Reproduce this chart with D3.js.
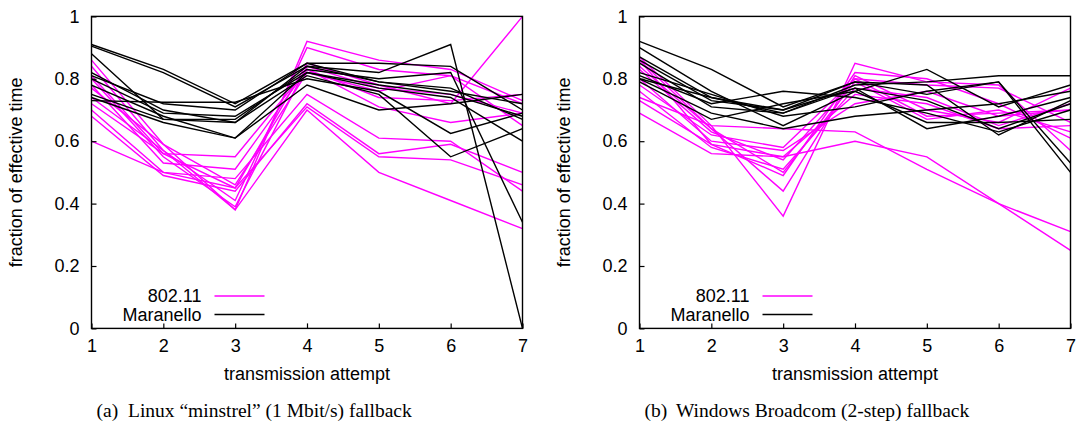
<!DOCTYPE html>
<html>
<head>
<meta charset="utf-8">
<script src="https://cdn.jsdelivr.net/npm/d3@7"></script>
<style>
	body { margin: 0; background: #fff; }
	svg { display: block; }
</style>
</head>
<body>
<svg id="chart" width="1078" height="424"></svg>
<script>
// transmission attempts on the x axis
var attempts = [1, 2, 3, 4, 5, 6, 7];
var yTickValues = [0, 0.2, 0.4, 0.6, 0.8, 1];
var yTickLabels = ['0', '0.2', '0.4', '0.6', '0.8', '1'];
var seriesNames = ['802.11', 'Maranello'];
var xTitle = 'transmission attempt';
var yTitle = 'fraction of effective time';

// (a) Linux minstrel, 802.11 runs
var minstrelStd = [
	[0.86, 0.59, 0.38, 0.92, 0.86, 0.83, 0.73],
	[0.84, 0.57, 0.41, 0.90, 0.83, 0.81, 0.72],
	[0.81, 0.56, 0.45, 0.85, 0.78, 0.72, 1.00],
	[0.80, 0.55, 0.39, 0.84, 0.77, 0.75, 0.69],
	[0.77, 0.59, 0.46, 0.82, 0.76, 0.81, 0.65],
	[0.72, 0.56, 0.55, 0.83, 0.71, 0.66, 0.69],
	[0.70, 0.50, 0.48, 0.75, 0.61, 0.60, 0.44],
	[0.68, 0.49, 0.44, 0.72, 0.56, 0.59, 0.50],
	[0.60, 0.50, 0.45, 0.71, 0.55, 0.54, 0.46],
	[0.74, 0.57, 0.38, 0.70, 0.50, 0.41, 0.32],
	[0.78, 0.53, 0.51, 0.83, 0.74, 0.73, 0.75]
];
// (a) Linux minstrel, Maranello runs
var minstrelMar = [
	[0.91, 0.83, 0.72, 0.85, 0.85, 0.84, 0.70],
	[0.905, 0.82, 0.71, 0.84, 0.82, 0.91, 0.00],
	[0.88, 0.67, 0.67, 0.83, 0.80, 0.82, 0.34],
	[0.81, 0.72, 0.70, 0.85, 0.79, 0.77, 0.67],
	[0.80, 0.69, 0.68, 0.82, 0.78, 0.75, 0.68],
	[0.75, 0.67, 0.66, 0.81, 0.75, 0.55, 0.64],
	[0.73, 0.725, 0.725, 0.80, 0.76, 0.625, 0.69],
	[0.78, 0.68, 0.61, 0.78, 0.70, 0.72, 0.75],
	[0.74, 0.66, 0.61, 0.82, 0.77, 0.74, 0.60],
	[0.82, 0.70, 0.66, 0.84, 0.79, 0.76, 0.72]
];
// (b) Windows Broadcom, 802.11 runs
var broadcomStd = [
	[0.87, 0.65, 0.36, 0.85, 0.79, 0.78, 0.57],
	[0.86, 0.59, 0.49, 0.82, 0.80, 0.72, 0.61],
	[0.84, 0.64, 0.44, 0.81, 0.70, 0.66, 0.77],
	[0.78, 0.62, 0.58, 0.80, 0.68, 0.69, 0.70],
	[0.74, 0.65, 0.64, 0.63, 0.51, 0.40, 0.25],
	[0.73, 0.59, 0.55, 0.75, 0.72, 0.64, 0.65],
	[0.69, 0.56, 0.55, 0.60, 0.55, 0.40, 0.31],
	[0.76, 0.58, 0.51, 0.77, 0.74, 0.65, 0.72],
	[0.86, 0.64, 0.50, 0.79, 0.67, 0.70, 0.63],
	[0.80, 0.60, 0.57, 0.72, 0.76, 0.68, 0.70],
	[0.83, 0.63, 0.54, 0.80, 0.78, 0.77, 0.66]
];
// (b) Windows Broadcom, Maranello runs
var broadcomMar = [
	[0.92, 0.83, 0.71, 0.79, 0.75, 0.79, 0.50],
	[0.90, 0.76, 0.65, 0.76, 0.83, 0.71, 0.78],
	[0.87, 0.74, 0.69, 0.78, 0.79, 0.81, 0.81],
	[0.86, 0.73, 0.70, 0.77, 0.73, 0.64, 0.72],
	[0.81, 0.72, 0.76, 0.74, 0.69, 0.63, 0.70],
	[0.80, 0.69, 0.64, 0.68, 0.70, 0.72, 0.76],
	[0.79, 0.67, 0.72, 0.76, 0.66, 0.66, 0.67],
	[0.80, 0.74, 0.70, 0.79, 0.78, 0.62, 0.73],
	[0.82, 0.75, 0.68, 0.71, 0.76, 0.79, 0.53],
	[0.85, 0.71, 0.69, 0.77, 0.64, 0.68, 0.74]
];

var stdColor = '#ff00ff';
var marColor = '#000000';
var sans = 'Liberation Sans, Arial, sans-serif';
var serif = 'Liberation Serif, Times New Roman, serif';

var svg = d3.select('#chart');

function drawPanel(left, stdRuns, marRuns, tag, caption) {
	var w = 431, top = 16.4, bottom = 328.4;
	var x = d3.scaleLinear().domain([1, 7]).range([left, left + w]);
	var y = d3.scaleLinear().domain([0, 1]).range([bottom, top]);
	var g = svg.append('g');

	var line = d3.line()
		.x(function(d, i) { return x(attempts[i]); })
		.y(function(d) { return y(d); });

	// 802.11 first, Maranello drawn over it
	g.selectAll('path.std').data(stdRuns).enter().append('path')
		.attr('class', 'std')
		.attr('d', line)
		.attr('fill', 'none')
		.attr('stroke', stdColor)
		.attr('stroke-width', 1.4);
	g.selectAll('path.mar').data(marRuns).enter().append('path')
		.attr('class', 'mar')
		.attr('d', line)
		.attr('fill', 'none')
		.attr('stroke', marColor)
		.attr('stroke-width', 1.4);

	var xAxis = g.append('g')
		.attr('transform', 'translate(0,' + bottom + ')')
		.call(d3.axisBottom(x).tickValues(attempts).tickFormat(d3.format('d'))
			.tickSizeInner(-5).tickSizeOuter(0).tickPadding(11));
	var yAxis = g.append('g')
		.attr('transform', 'translate(' + left + ',0)')
		.call(d3.axisLeft(y).tickValues(yTickValues)
			.tickFormat(function(d, i) { return yTickLabels[i]; })
			.tickSizeInner(-5).tickSizeOuter(0).tickPadding(12));

	[xAxis, yAxis].forEach(function(a) {
		a.select('.domain').remove();
		a.selectAll('line').attr('stroke', '#000').attr('stroke-width', 1.2);
		a.selectAll('text')
			.attr('font-family', sans)
			.attr('font-size', 18)
			.attr('fill', '#000');
	});

	// frame
	g.append('rect')
		.attr('x', left).attr('y', top)
		.attr('width', w).attr('height', bottom - top)
		.attr('fill', 'none')
		.attr('stroke', '#000')
		.attr('stroke-width', 1.4);

	g.append('text')
		.attr('x', left + w / 2).attr('y', 380)
		.attr('text-anchor', 'middle')
		.attr('font-family', sans).attr('font-size', 18)
		.text(xTitle);

	g.append('text')
		.attr('transform', 'translate(' + (left - 70) + ',' + ((top + bottom) / 2) + ') rotate(-90)')
		.attr('text-anchor', 'middle')
		.attr('font-family', sans).attr('font-size', 18)
		.text(yTitle);

	// legend
	var legend = g.append('g');
	[stdColor, marColor].forEach(function(c, i) {
		var ly = 296 + i * 18.5;
		legend.append('text')
			.attr('x', left + 110).attr('y', ly)
			.attr('dy', '0.35em')
			.attr('text-anchor', 'end')
			.attr('font-family', sans).attr('font-size', 18)
			.text(seriesNames[i]);
		legend.append('line')
			.attr('x1', left + 123).attr('x2', left + 173)
			.attr('y1', ly).attr('y2', ly)
			.attr('stroke', c)
			.attr('stroke-width', 1.4);
	});

	// sub-caption
	g.append('text')
		.attr('x', left + 5).attr('y', 417)
		.attr('font-family', serif).attr('font-size', 19.5)
		.text(tag);
	g.append('text')
		.attr('x', left + 36.5).attr('y', 417)
		.attr('font-family', serif).attr('font-size', 19.5)
		.text(caption);
}

drawPanel(91.5, minstrelStd, minstrelMar, '(a)', 'Linux \u201cminstrel\u201d (1 Mbit/s) fallback');
drawPanel(639.5, broadcomStd, broadcomMar, '(b)', 'Windows Broadcom (2-step) fallback');
</script>
</body>
</html>
